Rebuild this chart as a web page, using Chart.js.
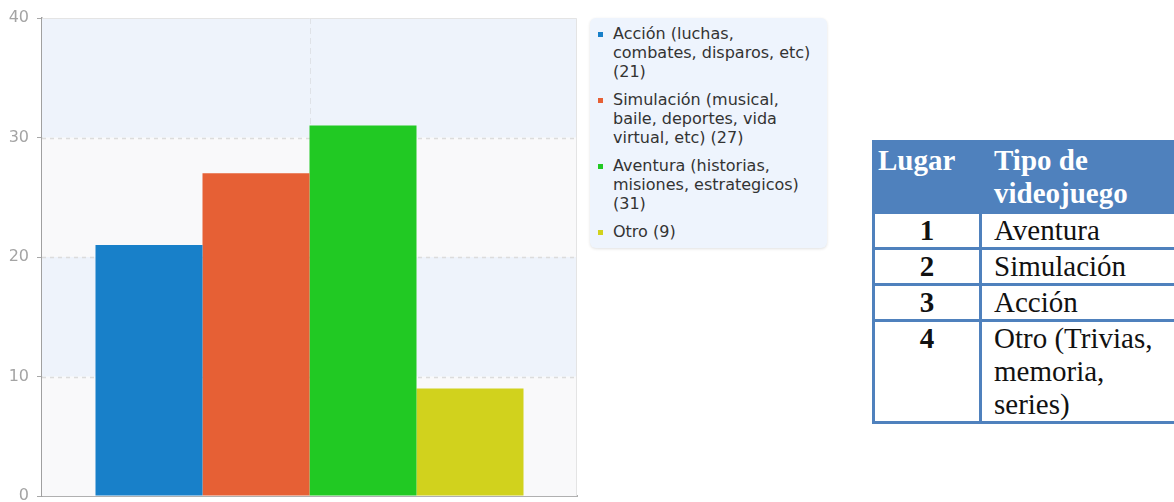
<!DOCTYPE html>
<html>
<head>
<meta charset="utf-8">
<script src="https://cdn.jsdelivr.net/npm/chart.js@4/dist/chart.umd.min.js"></script>
<style>
  html, body { margin: 0; padding: 0; background: #fff; overflow: hidden; }
  body { width: 1174px; height: 502px; position: relative; }
  #chartBox { position: absolute; left: 0; top: 0; width: 580px; height: 502px; }
  #legend {
    position: absolute; left: 590px; top: 18px; width: 237px; height: 230px;
    box-sizing: border-box; background: #eef4fd; border-radius: 6px;
    box-shadow: 0 1px 3px rgba(0,0,0,0.12);
    padding: 6px 8px 0 8px;
    font-family: "DejaVu Sans", sans-serif; font-size: 16px; line-height: 19px; color: #333;
  }
  .item { position: relative; padding-left: 15px; margin-bottom: 9px; width: 205px; }
  .item .mark { position: absolute; left: 0; top: 8px; width: 5px; height: 5px; }
  table {
    position: absolute; left: 872px; top: 140px; width: 314px;
    border-collapse: collapse; font-family: "Liberation Serif", "Times New Roman", serif;
    font-size: 29px; line-height: 33px; color: #111;
  }
  th, td { border: 3px solid #4f81bd; vertical-align: top; text-align: left; }
  th { background: #4f81bd; color: #fff; font-weight: bold; padding: 1px 5px 1px 12px; }
  th:first-child { padding-left: 3px; }
  td { padding: 0 5px 0 12px; }
  td.num { text-align: center; font-weight: bold; padding: 0; }
</style>
</head>
<body>
<div id="chartBox"><canvas id="chart"></canvas></div>
<div id="legend"></div>
<table id="ranking"></table>
<script>
// Data
const seriesNames = [
  'Acción (luchas, combates, disparos, etc)',
  'Simulación (musical, baile, deportes, vida virtual, etc)',
  'Aventura (historias, misiones, estrategicos)',
  'Otro'
];
const seriesValues = [21, 27, 31, 9];
const seriesColors = ['#1880c9', '#e66035', '#21c923', '#d1d21d'];
const yTicks = [0, 10, 20, 30, 40];

const tableHeader = ['Lugar', 'Tipo de videojuego'];
const tableRanks = ['1', '2', '3', '4'];
const tableTypes = ['Aventura', 'Simulación', 'Acción', 'Otro (Trivias, memoria, series)'];

// Background bands, dashed grid lines and the middle guide
const plotBackground = {
  id: 'plotBackground',
  beforeDatasetsDraw(chart) {
    const { ctx, chartArea: a, scales } = chart;
    const y = scales.y;
    ctx.save();
    for (let i = 0; i < yTicks.length - 1; i++) {
      const top = y.getPixelForValue(yTicks[i + 1]);
      const bottom = y.getPixelForValue(yTicks[i]);
      ctx.fillStyle = i % 2 === 0 ? '#f9f9fa' : '#eef3fb';
      ctx.fillRect(a.left, top, a.right - a.left, bottom - top);
    }
    ctx.strokeStyle = '#dcdcdc';
    ctx.lineWidth = 1.5;
    ctx.setLineDash([4, 4]);
    yTicks.slice(1, -1).forEach(v => {
      const py = Math.round(y.getPixelForValue(v)) + 0.5;
      ctx.beginPath();
      ctx.moveTo(a.left, py);
      ctx.lineTo(a.right, py);
      ctx.stroke();
    });
    const mx = Math.round((a.left + a.right) / 2) + 0.5;
    ctx.strokeStyle = '#dfe2e7';
    ctx.lineWidth = 1;
    ctx.setLineDash([6, 4]);
    ctx.beginPath();
    ctx.moveTo(mx, a.top);
    ctx.lineTo(mx, a.bottom);
    ctx.stroke();
    ctx.setLineDash([]);
    ctx.strokeStyle = '#e4e4e4';
    ctx.beginPath();
    ctx.moveTo(a.left, a.top + 0.5);
    ctx.lineTo(a.right - 0.5, a.top + 0.5);
    ctx.lineTo(a.right - 0.5, a.bottom);
    ctx.stroke();
    ctx.restore();
  }
};

const chart = new Chart(document.getElementById('chart'), {
  type: 'bar',
  data: {
    labels: [''],
    datasets: seriesNames.map((name, i) => ({
      label: name,
      data: [seriesValues[i]],
      backgroundColor: seriesColors[i],
      borderWidth: 0,
      categoryPercentage: 0.8,
      barPercentage: 1
    }))
  },
  options: {
    responsive: true,
    maintainAspectRatio: false,
    animation: false,
    layout: { padding: { left: 0, top: 18, right: 3, bottom: 6 } },
    plugins: { legend: { display: false }, tooltip: { enabled: false } },
    scales: {
      x: {
        afterFit: s => { s.height = 0; },
        ticks: { display: false },
        grid: { display: false },
        border: { display: true, color: '#b0b0b0', width: 2 }
      },
      y: {
        min: 0, max: 40,
        afterFit: s => { s.width = 42; s.paddingTop = 0; s.paddingBottom = 0; },
        ticks: { stepSize: 10, padding: 8, color: '#a4a4a4', font: { family: 'DejaVu Sans', size: 16 } },
        grid: { drawOnChartArea: false, drawTicks: true, tickLength: 5, color: '#a8a8a8' },
        border: { display: true, color: '#a0a0a0', width: 1.5 }
      }
    }
  },
  plugins: [plotBackground]
});

// HTML legend built from the chart datasets
const legend = document.getElementById('legend');
chart.data.datasets.forEach((ds, i) => {
  const item = document.createElement('div');
  item.className = 'item';
  const mark = document.createElement('span');
  mark.className = 'mark';
  mark.style.background = ds.backgroundColor;
  item.appendChild(mark);
  item.appendChild(document.createTextNode(ds.label + ' (' + seriesValues[i] + ')'));
  legend.appendChild(item);
});

// Ranking table
const table = document.getElementById('ranking');
const head = table.insertRow();
tableHeader.forEach((h, i) => {
  const th = document.createElement('th');
  th.textContent = h;
  if (i === 0) th.style.width = '96px';
  head.appendChild(th);
});
tableRanks.forEach((r, i) => {
  const row = table.insertRow();
  const c1 = row.insertCell();
  c1.className = 'num';
  c1.textContent = r;
  const c2 = row.insertCell();
  c2.textContent = tableTypes[i];
});
</script>
</body>
</html>
